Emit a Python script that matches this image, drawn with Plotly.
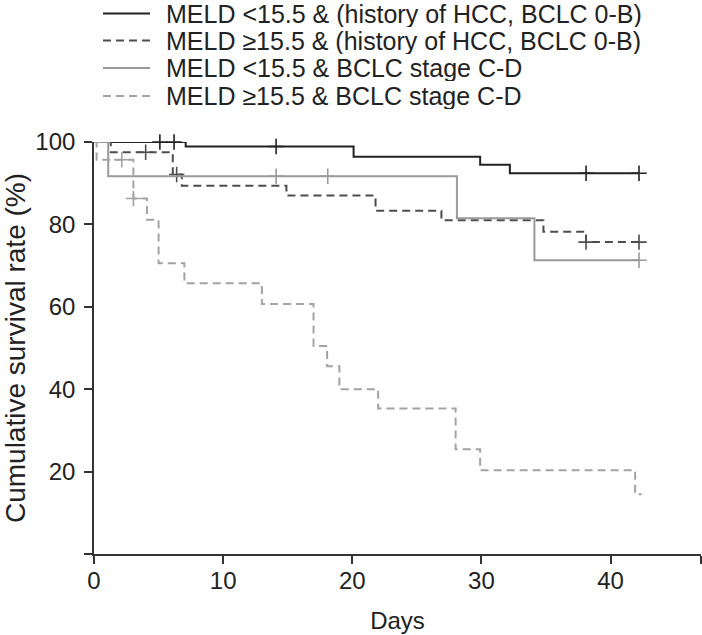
import plotly.graph_objects as go

# ---- data ----
series_names = [
    "MELD <15.5 & (history of HCC, BCLC 0-B)",
    "MELD ≥15.5 & (history of HCC, BCLC 0-B)",
    "MELD <15.5 & BCLC stage C-D",
    "MELD ≥15.5 & BCLC stage C-D",
]

s1_days = [0, 7.1, 20.1, 29.9, 32.2, 42.2]
s1_surv = [100, 98.9, 96.4, 94.5, 92.4, 92.4]
s1_cens_days = [5.1, 6.2, 14.1, 38.1, 42.2]
s1_cens_surv = [100, 100, 98.9, 92.4, 92.4]

s2_days = [0, 1.3, 6.1, 6.8, 14.9, 21.8, 26.9, 34.8, 38.1, 42.2]
s2_surv = [100, 97.5, 92.1, 89.4, 87.0, 83.3, 81.0, 78.2, 75.7, 75.7]
s2_cens_days = [4.0, 6.4, 38.1, 42.2]
s2_cens_surv = [97.5, 92.1, 75.7, 75.7]

s3_days = [0, 1.1, 28.1, 34.1, 42.2]
s3_surv = [100, 91.7, 81.5, 71.3, 71.3]
s3_cens_days = [14.1, 18.1, 42.2]
s3_cens_surv = [91.7, 91.7, 71.3]

s4_days = [0, 0.2, 3.05, 4.1, 5.0, 7.0, 13.0, 17.0, 18.05, 19.0, 22.0, 28.0, 29.9, 41.9, 42.4]
s4_surv = [100, 95.7, 86.3, 81.1, 70.6, 65.7, 60.7, 50.5, 45.6, 40.0, 35.3, 25.4, 20.3, 14.5, 14.5]
s4_cens_days = [2.15, 3.05]
s4_cens_surv = [95.7, 86.3]

x_tickvals = [0, 10, 20, 30, 40, 47]
x_ticktext = ["0", "10", "20", "30", "40", ""]
y_tickvals = [0, 20, 40, 60, 80, 100]
y_ticktext = ["", "20", "40", "60", "80", "100"]

# ---- styles ----
colors = ["#222222", "#4d4d4d", "#9a9a9a", "#a3a3a3"]
dashes = ["solid", "8px,5px", "solid", "8px,5px"]
FONT = "Liberation Sans, Arial, sans-serif"

curves = [
    (s1_days, s1_surv, s1_cens_days, s1_cens_surv),
    (s2_days, s2_surv, s2_cens_days, s2_cens_surv),
    (s3_days, s3_surv, s3_cens_days, s3_cens_surv),
    (s4_days, s4_surv, s4_cens_days, s4_cens_surv),
]

fig = go.Figure()
for i, (d, s, cd, cs) in enumerate(curves):
    fig.add_trace(go.Scatter(
        x=d, y=s, mode="lines", name=series_names[i],
        line=dict(shape="hv", color=colors[i], width=2, dash=dashes[i]),
        cliponaxis=False, showlegend=False,
    ))
    fig.add_trace(go.Scatter(
        x=cd, y=cs, mode="markers", name=series_names[i] + " (censored)",
        marker=dict(symbol="cross-thin", size=11, color=colors[i],
                    line=dict(color=colors[i], width=1.6)),
        cliponaxis=False, showlegend=False,
    ))

# manual legend above the plot
L, T, W, H = 94, 142, 607, 412
def px_to_paper(px, py):
    return (px - L) / W, (T + H - py) / H

row_y = [13.5, 40.5, 68, 96]
for i, name in enumerate(series_names):
    x0, y0 = px_to_paper(103, row_y[i])
    x1, _ = px_to_paper(150, row_y[i])
    fig.add_shape(type="line", xref="paper", yref="paper", x0=x0, x1=x1, y0=y0, y1=y0,
                  line=dict(color=colors[i], width=2, dash=dashes[i]))
    tx, _ = px_to_paper(165, row_y[i])
    fig.add_annotation(xref="paper", yref="paper", x=tx, y=y0, text=name,
                       showarrow=False, xanchor="left", yanchor="middle",
                       height=26, valign="middle", borderpad=0,
                       font=dict(family=FONT, size=25, color="#222222"))

axis_common = dict(
    showline=True, linecolor="#333333", linewidth=1.6,
    ticks="outside", ticklen=8, tickwidth=1.6, tickcolor="#333333",
    showgrid=False, zeroline=False,
    tickfont=dict(family=FONT, size=24, color="#222222"),
)

fig.update_layout(
    width=702, height=635,
    margin=dict(l=L, r=702 - L - W, t=T, b=635 - T - H),
    paper_bgcolor="white", plot_bgcolor="white",
    xaxis=dict(range=[0, 47], tickvals=x_tickvals, ticktext=x_ticktext,
               title=dict(text="Days", font=dict(family=FONT, size=24, color="#222222"), standoff=20),
               ticklabelstandoff=-4, **axis_common),
    yaxis=dict(range=[0, 100], tickvals=y_tickvals, ticktext=y_ticktext,
               title=dict(text="Cumulative survival rate (%)", font=dict(family=FONT, size=28, color="#222222"), standoff=14),
               ticklabelstandoff=4, **axis_common),
)

fig.write_html("out.html", config={"displayModeBar": False},
               post_script="document.body.style.margin='0';document.body.style.padding='0';")
